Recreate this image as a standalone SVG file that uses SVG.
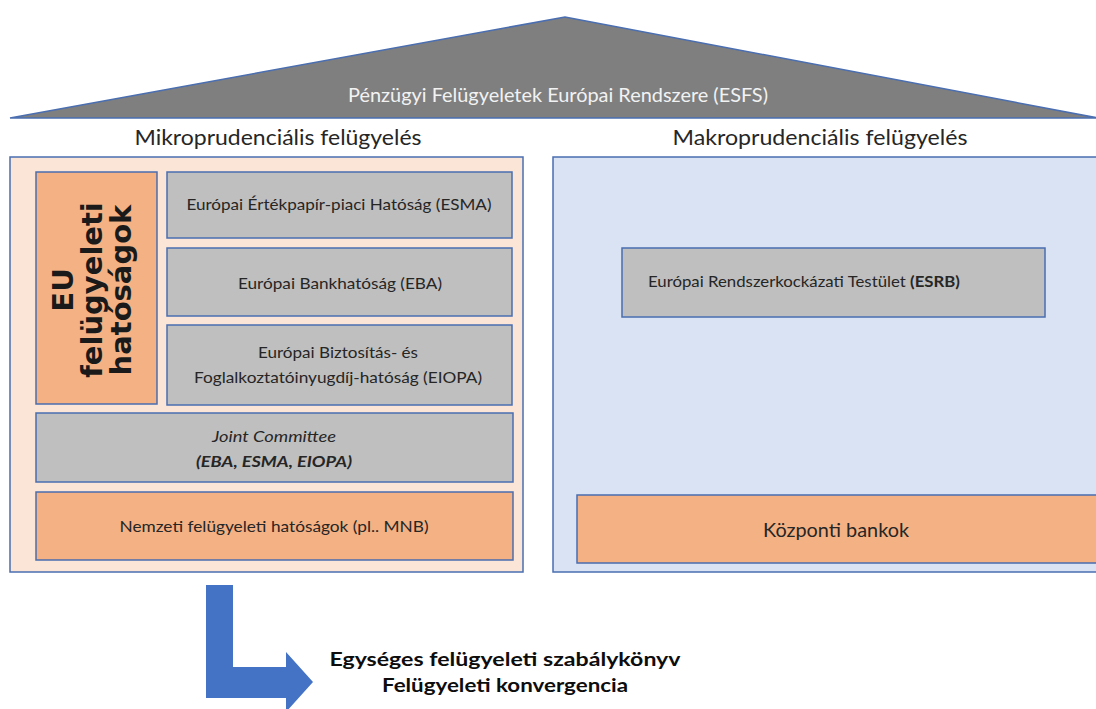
<svg xmlns="http://www.w3.org/2000/svg" width="1096" height="709" viewBox="0 0 1096 709">
<style>
.t{font-family:Lato,"Open Sans","Liberation Sans",sans-serif;fill:#262626}
.box{stroke:#4a6eb0;stroke-width:1.5}
.gray{fill:#bfbfbf}
.orange{fill:#f4b183}
.b{font-weight:bold}
</style>
<rect width="1096" height="709" fill="#ffffff"/>
<g id="esfs">
<polygon points="10,118 565,17 1098,118" fill="#7f7f7f" stroke="#4a6eb0" stroke-width="1.5"/>
<text class="t" x="558" y="102" font-size="19" text-anchor="middle" style="fill:#f2f2f2" textLength="420" lengthAdjust="spacingAndGlyphs">Pénzügyi Felügyeletek Európai Rendszere (ESFS)</text>
</g>
<g id="mikro-label"><text class="t" x="278" y="145" font-size="21" text-anchor="middle" textLength="287" lengthAdjust="spacingAndGlyphs">Mikroprudenciális felügyelés</text></g>
<g id="makro-label"><text class="t" x="820" y="145" font-size="21" text-anchor="middle" textLength="295" lengthAdjust="spacingAndGlyphs">Makroprudenciális felügyelés</text></g>
<g id="mikro-panel"><rect class="box" x="10" y="157" width="513" height="415" fill="#fbe5d6"/></g>
<g id="makro-panel"><rect class="box" x="553" y="157" width="560" height="415" fill="#dae3f3"/></g>
<g id="eu">
<rect class="box orange" x="36" y="172" width="121" height="232"/>
<text font-family="'DejaVu Sans',sans-serif" font-weight="bold" font-size="29" fill="#1a1a1a" text-anchor="middle" transform="translate(0,290) rotate(-90)"><tspan x="0" y="73">EU</tspan><tspan x="0" y="102">felügyeleti</tspan><tspan x="0" y="131">hatóságok</tspan></text>
</g>
<g id="esma">
<rect class="box gray" x="167" y="172" width="345" height="66"/>
<text class="t" x="339" y="210" font-size="16" text-anchor="middle" textLength="305" lengthAdjust="spacingAndGlyphs">Európai Értékpapír-piaci Hatóság (ESMA)</text>
</g>
<g id="eba">
<rect class="box gray" x="167" y="248" width="345" height="68"/>
<text class="t" x="340" y="289" font-size="16" text-anchor="middle" textLength="204" lengthAdjust="spacingAndGlyphs">Európai Bankhatóság (EBA)</text>
</g>
<g id="eiopa">
<rect class="box gray" x="167" y="325" width="345" height="80"/>
<text class="t" x="338" y="358" font-size="16" text-anchor="middle" textLength="160" lengthAdjust="spacingAndGlyphs">Európai Biztosítás- és</text>
<text class="t" x="338" y="383" font-size="16" text-anchor="middle" textLength="288" lengthAdjust="spacingAndGlyphs">Foglalkoztatóinyugdíj-hatóság (EIOPA)</text>
</g>
<g id="joint">
<rect class="box gray" x="36" y="413" width="477" height="69"/>
<text class="t" x="274" y="442" font-size="16" font-style="italic" text-anchor="middle" textLength="124" lengthAdjust="spacingAndGlyphs">Joint Committee</text>
<text class="t b" x="274" y="467" font-size="16" font-style="italic" text-anchor="middle" textLength="156" lengthAdjust="spacingAndGlyphs">(EBA, ESMA, EIOPA)</text>
</g>
<g id="nemzeti">
<rect class="box orange" x="36" y="492" width="477" height="68"/>
<text class="t" x="274" y="532" font-size="16" text-anchor="middle" textLength="309" lengthAdjust="spacingAndGlyphs">Nemzeti felügyeleti hatóságok (pl.. MNB)</text>
</g>
<g id="esrb">
<rect class="box gray" x="622" y="248" width="423" height="69"/>
<text class="t" x="648" y="287" font-size="16" textLength="312" lengthAdjust="spacingAndGlyphs">Európai Rendszerkockázati Testület <tspan class="b">(ESRB)</tspan></text>
</g>
<g id="kozponti">
<rect class="box orange" x="577" y="495" width="540" height="68"/>
<text class="t" x="836" y="537" font-size="20" text-anchor="middle" textLength="146" lengthAdjust="spacingAndGlyphs">Központi bankok</text>
</g>
<g id="connectors">
<polygon points="206,585 233,585 233,667 286,667 286,652 313,682 286,712 286,698 206,698" fill="#4472c4"/>
</g>
<g id="result">
<text class="t b" x="505" y="666" font-size="18" text-anchor="middle" style="fill:#0d0d0d" textLength="351" lengthAdjust="spacingAndGlyphs">Egységes felügyeleti szabálykönyv</text>
<text class="t b" x="505" y="692" font-size="18" text-anchor="middle" style="fill:#0d0d0d" textLength="246" lengthAdjust="spacingAndGlyphs">Felügyeleti konvergencia</text>
</g>
</svg>
